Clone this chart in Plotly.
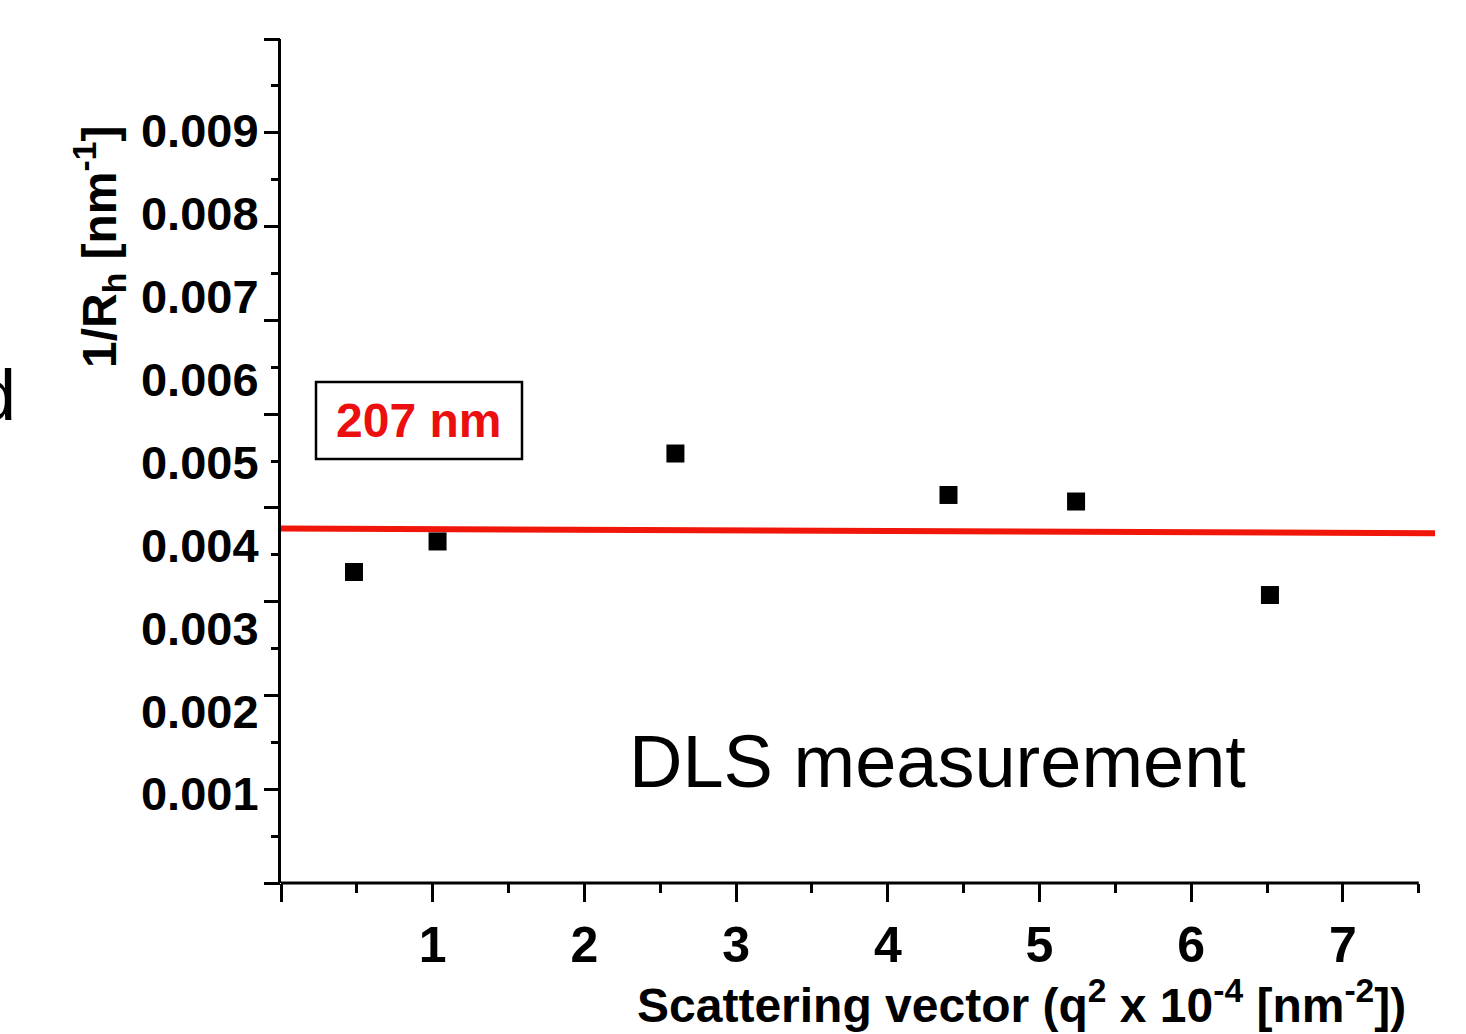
import plotly.graph_objects as go

# ---- data ----
q2_vals = [0.481, 1.032, 2.600, 4.400, 5.241, 6.519]
inv_rh = [0.003678, 0.004046, 0.005107, 0.004607, 0.004528, 0.003400]
fit_x = [0.0, 7.607]
fit_y = [0.004203, 0.004145]
y_tick_vals = [0.001, 0.002, 0.003, 0.004, 0.005, 0.006, 0.007, 0.008, 0.009]
y_tick_text = ["0.001", "0.002", "0.003", "0.004", "0.005", "0.006", "0.007", "0.008", "0.009"]
x_tick_vals = [0, 1, 2, 3, 4, 5, 6, 7]
x_tick_text = ["", "1", "2", "3", "4", "5", "6", "7"]
x_minor_vals = [0.5, 1.5, 2.5, 3.5, 4.5, 5.5, 6.5, 7.5]
x_axis_end = 7.5

FONT = "Liberation Sans, Arial, sans-serif"
W, H = 1466, 1034
ML, MR, MT, MB = 281, 31, 39, 151
PW, PH = W - ML - MR, H - MT - MB


def px(xp):
    return (xp - ML) / PW


def py(yp):
    return (H - MB - yp) / PH


fig = go.Figure()
fig.add_trace(go.Scatter(x=fit_x, y=fit_y, mode="lines",
                         line=dict(color="rgb(240,22,10)", width=6),
                         showlegend=False, hoverinfo="skip"))
fig.add_trace(go.Scatter(x=q2_vals, y=inv_rh, mode="markers",
                         marker=dict(symbol="square", size=18, color="black"),
                         showlegend=False))
# empty trace so that the tick-mark axis (y2) is drawn
fig.add_trace(go.Scatter(x=[None], y=[None], yaxis="y2", mode="markers",
                         showlegend=False, hoverinfo="skip"))

fig.update_layout(
    width=W, height=H,
    margin=dict(l=ML, r=MR, t=MT, b=MB),
    paper_bgcolor="white", plot_bgcolor="white",
    font=dict(family=FONT, color="black"),
    xaxis=dict(range=[0, 7.607], showgrid=False, zeroline=False, showline=False,
               tickmode="array", tickvals=x_tick_vals, ticktext=x_tick_text,
               ticks="outside", ticklen=18, tickwidth=2.5, tickcolor="black",
               minor=dict(tickmode="array", tickvals=x_minor_vals, ticks="outside",
                          ticklen=9, tickwidth=2.5, tickcolor="black"),
               tickfont=dict(family=FONT, size=50, color="black", weight="bold"),
               ticklabelstandoff=0),
    yaxis=dict(range=[-0.0000736, 0.010107], showgrid=False, zeroline=False,
               showline=True, linewidth=3, linecolor="black",
               tickmode="array", tickvals=y_tick_vals, ticktext=y_tick_text,
               ticks="", tickfont=dict(family=FONT, size=47, color="black", weight="bold"),
               ticklabelstandoff=10),
    yaxis2=dict(range=[0, 9], overlaying="y", anchor="x", side="left",
                showgrid=False, zeroline=False, showline=False, showticklabels=False,
                tickmode="linear", tick0=0, dtick=1,
                ticks="outside", ticklen=16, tickwidth=2.5, tickcolor="black",
                minor=dict(dtick=0.5, ticks="outside", ticklen=9, tickwidth=2.5,
                           tickcolor="black")),
)

# x axis line stops at 7.5 while the fit line runs beyond it
fig.add_shape(type="line", xref="x", yref="paper", x0=0, x1=x_axis_end, y0=0, y1=0,
              line=dict(color="black", width=3))

# box around the 207 nm label
fig.add_shape(type="rect", xref="paper", yref="paper",
              x0=px(316), x1=px(522), y0=py(459), y1=py(382),
              line=dict(color="black", width=2.5), fillcolor="white", layer="below")

fig.add_annotation(xref="paper", yref="paper", x=px(418.5), y=py(421),
                   text="<b>207 nm</b>", showarrow=False, xanchor="center", yanchor="middle",
                   font=dict(family=FONT, size=48, color="rgb(235,15,15)"))

fig.add_annotation(xref="paper", yref="paper", x=px(937), y=py(761),
                   text="DLS measurement", showarrow=False, xanchor="center", yanchor="middle",
                   font=dict(family=FONT, size=74, color="black"))

fig.add_annotation(xref="paper", yref="paper", x=px(1408), y=py(1002),
                   text="<b>Scattering vector (q<sup>2</sup> x 10<sup>-4</sup> [nm<sup>-2</sup>])</b>",
                   showarrow=False, xanchor="right", yanchor="middle",
                   font=dict(family=FONT, size=48, color="black"))

fig.add_annotation(xref="paper", yref="paper", x=px(99), y=py(247),
                   text="<b>1/R<sub>h</sub> [nm<sup>-1</sup>]</b>", textangle=-90,
                   showarrow=False, xanchor="center", yanchor="middle",
                   font=dict(family=FONT, size=48, color="black"))

# cut-off letter at the left edge of the reference
fig.add_annotation(xref="paper", yref="paper", x=px(18), y=py(395),
                   text="d", showarrow=False, xanchor="right", yanchor="middle",
                   font=dict(family=FONT, size=72, color="black"))

fig.write_html("out.html")
